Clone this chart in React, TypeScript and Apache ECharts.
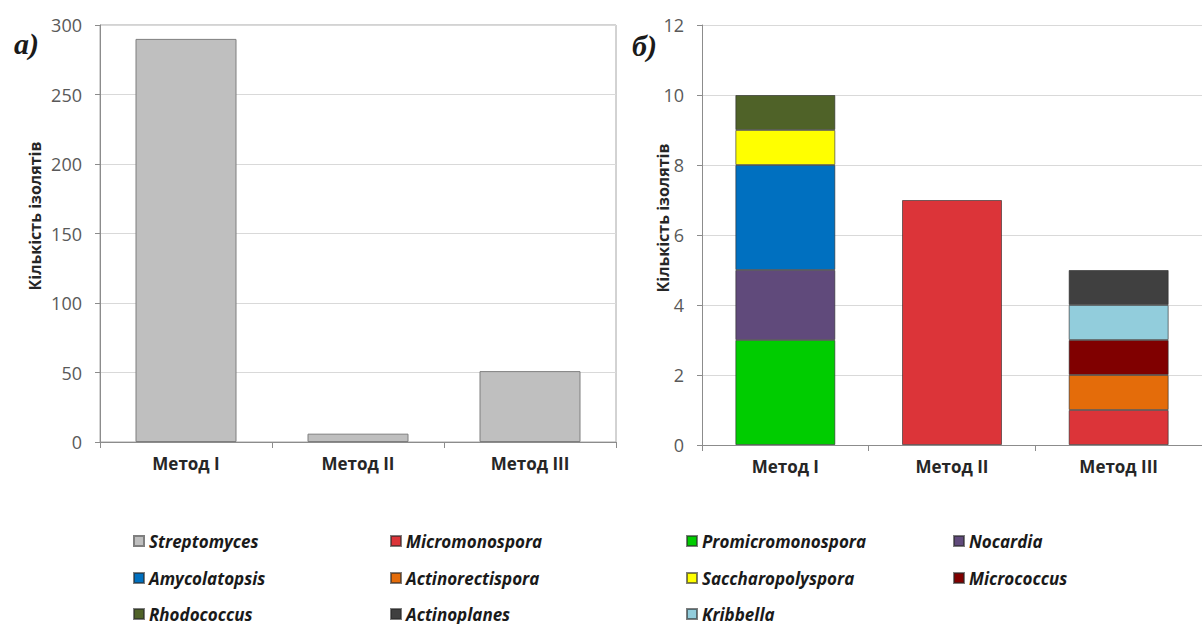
import React, { useEffect, useRef } from "react";
import * as echarts from "echarts";

const methods = ["Метод I", "Метод II", "Метод III"];
const streptomyces = [290, 6, 51];

const leftTicks = { min: 0, max: 300, interval: 50 };
const rightTicks = { min: 0, max: 12, interval: 2 };

const micromonospora = [0, 7, 1];
const promicromonospora = [3, 0, 0];
const nocardia = [2, 0, 0];
const amycolatopsis = [3, 0, 0];
const actinorectispora = [0, 0, 1];
const saccharopolyspora = [1, 0, 0];
const micrococcus = [0, 0, 1];
const rhodococcus = [1, 0, 0];
const kribbella = [0, 0, 1];
const actinoplanes = [0, 0, 1];

const stackSeries: [string, number[], string][] = [
  ["Micromonospora", micromonospora, "#DC3439"],
  ["Promicromonospora", promicromonospora, "#00CC00"],
  ["Nocardia", nocardia, "#604A7B"],
  ["Amycolatopsis", amycolatopsis, "#0070C0"],
  ["Actinorectispora", actinorectispora, "#E46C0A"],
  ["Saccharopolyspora", saccharopolyspora, "#FFFF00"],
  ["Micrococcus", micrococcus, "#800000"],
  ["Rhodococcus", rhodococcus, "#4F6228"],
  ["Kribbella", kribbella, "#92CDDC"],
  ["Actinoplanes", actinoplanes, "#404040"],
];

const legendRows = [
  ["Streptomyces", "Micromonospora", "Promicromonospora", "Nocardia"],
  ["Amycolatopsis", "Actinorectispora", "Saccharopolyspora", "Micrococcus"],
  ["Rhodococcus", "Actinoplanes", "Kribbella"],
];
const legendLeft = [133, 390, 686, 953];
const legendTop = [532, 569, 605];

const FONT = "'Open Sans', 'Liberation Sans', sans-serif";

export default function App() {
  const ref = useRef<HTMLDivElement>(null);
  useEffect(() => {
    if (!ref.current) return;
    const chart = echarts.init(ref.current, null, { renderer: "svg" });
    const axisLine = { show: true, lineStyle: { color: "#8C8C8C", width: 1 } };
    const tickStyle = { show: true, length: 6, lineStyle: { color: "#8C8C8C" } };
    const yLabel = { color: "#595959", fontSize: 18, fontFamily: FONT, margin: 18 };
    const xLabel = { color: "#262626", fontSize: 17, fontWeight: "bold" as const, fontFamily: FONT, margin: 13 };
    const split = { show: true, lineStyle: { color: "#D9D9D9", width: 1 } };

    const legends: any[] = [];
    legendRows.forEach((row, r) =>
      row.forEach((name, c) =>
        legends.push({
          data: [name],
          left: legendLeft[c],
          top: legendTop[r],
          icon: "rect",
          itemWidth: 10,
          itemHeight: 10,
          selectedMode: false,
          padding: 0,
          textStyle: { fontSize: 17, fontStyle: "italic", fontWeight: "bold", fontFamily: FONT, color: "#1a1a1a", lineHeight: 18 },
        })
      )
    );

    const option: any = {
      animation: false,
      backgroundColor: "#ffffff",
      grid: [
        { left: 100, top: 25, width: 516, height: 417, show: true, borderColor: "#A6A6A6", borderWidth: 1, backgroundColor: "transparent" },
        { left: 702, top: 25, width: 510, height: 420 },
      ],
      xAxis: [
        { type: "category", gridIndex: 0, data: methods, axisLine, axisTick: tickStyle, axisLabel: xLabel },
        { type: "category", gridIndex: 1, data: methods, axisLine, axisTick: tickStyle, axisLabel: xLabel },
      ],
      yAxis: [
        { type: "value", gridIndex: 0, ...leftTicks, axisLine, axisTick: { ...tickStyle, length: 5 }, axisLabel: yLabel, splitLine: split },
        { type: "value", gridIndex: 1, ...rightTicks, axisLine, axisTick: { ...tickStyle, length: 5 }, axisLabel: yLabel, splitLine: split },
      ],
      legend: legends,
      series: [
        {
          name: "Streptomyces",
          type: "bar",
          xAxisIndex: 0,
          yAxisIndex: 0,
          data: streptomyces,
          barWidth: 101,
          itemStyle: { color: "#BFBFBF", borderColor: "#7F7F7F", borderWidth: 1 },
        },
        ...stackSeries.map(([name, vals, color]) => ({
          name,
          type: "bar",
          stack: "b",
          xAxisIndex: 1,
          yAxisIndex: 1,
          barWidth: 100,
          data: vals.map((v) => (v === 0 ? "-" : v)),
          itemStyle: { color, borderColor: "rgba(40,40,40,0.6)", borderWidth: 1 },
        })),
      ],
      graphic: [
        { type: "text", x: 14, y: 28, style: { text: "a)", font: "italic bold 30px 'Liberation Serif', serif", fill: "#1a1a1a" } },
        { type: "text", x: 632, y: 30, style: { text: "б)", font: "italic bold 30px 'Liberation Serif', serif", fill: "#1a1a1a" } },
        { type: "text", x: 35, y: 216, rotation: Math.PI / 2, style: { text: "Кількість ізолятів", font: `bold 16px ${FONT}`, fill: "#262626", align: "center", verticalAlign: "middle" } },
        { type: "text", x: 663, y: 218, rotation: Math.PI / 2, style: { text: "Кількість ізолятів", font: `bold 16px ${FONT}`, fill: "#262626", align: "center", verticalAlign: "middle" } },
      ],
    };
    chart.setOption(option);
    return () => chart.dispose();
  }, []);
  return <div ref={ref} style={{ position: "fixed", left: 0, top: 0, width: 1202, height: 624, background: "#fff" }} />;
}
